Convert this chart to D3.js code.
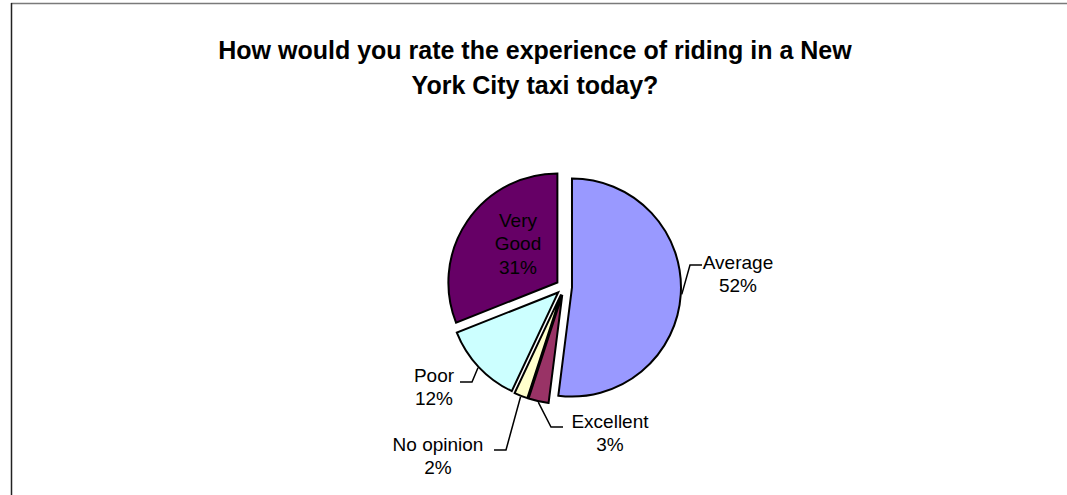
<!DOCTYPE html>
<html>
<head>
<meta charset="utf-8">
<script src="https://cdn.jsdelivr.net/npm/d3@7/dist/d3.min.js"></script>
<style>
  html, body { margin: 0; padding: 0; background: #fff; }
  svg { display: block; }
  text { font-family: "Liberation Sans", Arial, sans-serif; fill: #000; }
</style>
</head>
<body>
<svg id="chart" width="1067" height="495"></svg>
<script>
// ---- data ----
const categories = ["Average", "Excellent", "No opinion", "Poor", "Very Good"];
const values = [52, 3, 2, 12, 31];
const colors = ["#9999FF", "#993366", "#FFFFCC", "#CCFFFF", "#660066"];
const titleLines = ["How would you rate the experience of riding in a New", "York City taxi today?"];

// ---- layout (positions only) ----
const W = 1067, H = 495;
const cx = 564, cy = 287, radius = 109, explode = 8;
const labelFont = 19, lineGap = 23.5;
// label block centre (x, first-line y), leader anchor end (ax, ay), elbow dx
const labelLayout = {
  "Average":    { x: 738, y: 262, inside: false, ax: 702, ay: 265, elbow: -12, lines: 2 },
  "Excellent":  { x: 610, y: 421, inside: false, ax: 563, ay: 427, elbow: -12, lines: 2 },
  "No opinion": { x: 438, y: 444, inside: false, ax: 494, ay: 450, elbow: 12, lines: 2 },
  "Poor":       { x: 434, y: 375, inside: false, ax: 460, ay: 382, elbow: 12, lines: 2 },
  "Very Good":  { x: 518, y: 220, inside: true }
};

const svg = d3.select("#chart");

// chart border (extends past the right/bottom edge like the original)
svg.append("line").attr("x1", 11).attr("y1", 3.5).attr("x2", W).attr("y2", 3.5)
  .attr("stroke", "#7a7a7a").attr("stroke-width", 1.5);
svg.append("line").attr("x1", 11.5).attr("y1", 3).attr("x2", 11.5).attr("y2", H)
  .attr("stroke", "#222").attr("stroke-width", 1.5);

// title
const title = svg.append("text").attr("x", 535).attr("y", 59)
  .attr("text-anchor", "middle").attr("font-weight", "bold").attr("font-size", 25);
titleLines.forEach((t, i) => {
  title.append("tspan").attr("x", 535).attr("dy", i === 0 ? 0 : 35).text(t);
});

// pie
const data = categories.map((c, i) => ({ name: c, value: values[i], color: colors[i] }));
const pie = d3.pie().value(d => d.value).sort(null);
const arcs = pie(data);
const arc = d3.arc().innerRadius(0).outerRadius(radius);

const g = svg.append("g").attr("transform", `translate(${cx},${cy})`);

function offset(a) {
  const m = (a.startAngle + a.endAngle) / 2;
  return [Math.sin(m) * explode, -Math.cos(m) * explode];
}

g.selectAll("path.slice").data(arcs).enter().append("path")
  .attr("class", "slice")
  .attr("transform", d => { const o = offset(d); return `translate(${o[0]},${o[1]})`; })
  .attr("d", arc)
  .attr("fill", d => d.data.color)
  .attr("stroke", "#000")
  .attr("stroke-width", 2)
  .attr("stroke-linejoin", "miter");

// leader lines
arcs.forEach(a => {
  const L = labelLayout[a.data.name];
  if (L.inside) return;
  const m = (a.startAngle + a.endAngle) / 2;
  const o = offset(a);
  const ex = cx + o[0] + Math.sin(m) * (radius + 1);
  const ey = cy + o[1] - Math.cos(m) * (radius + 1);
  const pts = [[ex, ey], [L.ax + L.elbow, L.ay], [L.ax, L.ay]];
  svg.append("path")
    .attr("d", d3.line()(pts))
    .attr("fill", "none").attr("stroke", "#000").attr("stroke-width", 1.5);
});

// labels
arcs.forEach(a => {
  const L = labelLayout[a.data.name];
  const pct = Math.round(a.data.value) + "%";
  const lines = L.inside ? a.data.name.split(" ").concat([pct]) : [a.data.name, pct];
  const t = svg.append("text").attr("text-anchor", "middle").attr("font-size", labelFont);
  lines.forEach((s, i) => {
    t.append("tspan").attr("x", L.x).attr("y", L.y + i * lineGap).attr("dy", "0.35em").text(s);
  });
});
</script>
</body>
</html>
